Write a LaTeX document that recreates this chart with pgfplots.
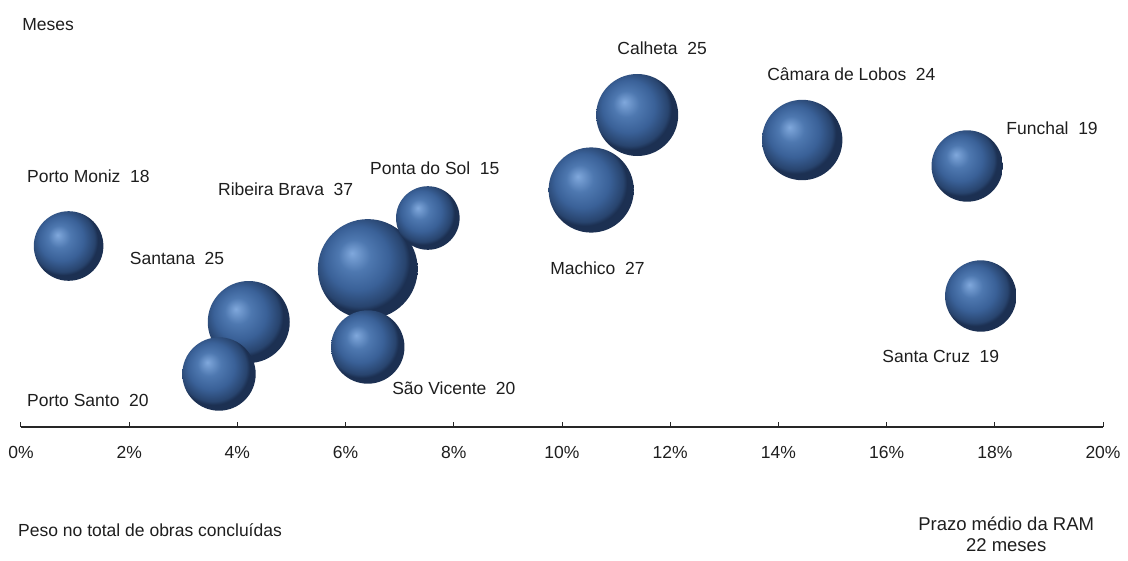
\documentclass[border=0pt]{standalone}
\usepackage{fontspec}
\setmainfont{Liberation Sans}
\usepackage{pgfplots}
\pgfplotsset{compat=1.18}

\definecolor{txt}{RGB}{30,30,30}
\definecolor{sHL}{RGB}{128,168,220}
\definecolor{sMid}{RGB}{78,120,176}
\definecolor{sBase}{RGB}{58,97,152}
\definecolor{sDark}{RGB}{40,68,110}
\definecolor{sEdge}{RGB}{28,48,82}
\pgfdeclareradialshading{sphere}{\pgfpoint{-8bp}{8bp}}{color(0bp)=(sHL); color(8bp)=(sMid); color(16bp)=(sBase); color(23bp)=(sDark); color(25bp)=(sEdge); color(50bp)=(sEdge)}
\pgfdeclareplotmark{sphere}{\pgfpathcircle{\pgfpointorigin}{\pgfplotmarksize}\pgfshadepath{sphere}{0}\pgfusepath{}}
\pgfplotsset{bub/.style={only marks, mark=sphere, mark size=#1}}
\newcommand{\gap}{\hspace{0.55em}}

\begin{document}
\begin{tikzpicture}
\begin{axis}[
  scale only axis, width=1082pt, height=427pt,
  xmin=0, xmax=20, ymin=0, ymax=427,
  axis x line*=bottom, axis y line=none,
  clip=false,
  xtick={0,2,...,20},
  xticklabels={0\%,2\%,4\%,6\%,8\%,10\%,12\%,14\%,16\%,18\%,20\%},
  tick align=inside, major tick length=5pt,
  every tick/.style={black!85, line width=1pt},
  axis line style={black!85, line width=1.2pt},
  xticklabel style={anchor=center, yshift=-25pt, font=\fontsize{17.5}{20}\selectfont, text=txt},
]
% x = share of completed works (%), y = vertical position, mark size = bubble radius (months)
\addplot[bub=49.9pt] coordinates {(6.41,158)};   % Ribeira Brava 37
\addplot[bub=42.6pt] coordinates {(10.54,237)};  % Machico 27
\addplot[bub=41.0pt] coordinates {(4.21,105)};   % Santana 25
\addplot[bub=41.0pt] coordinates {(11.39,312)};  % Calheta 25
\addplot[bub=40.2pt] coordinates {(14.44,287)};  % Camara de Lobos 24
\addplot[bub=36.7pt] coordinates {(3.66,53)};    % Porto Santo 20
\addplot[bub=36.7pt] coordinates {(6.41,80)};    % Sao Vicente 20
\addplot[bub=35.7pt] coordinates {(17.49,261)};  % Funchal 19
\addplot[bub=35.7pt] coordinates {(17.74,131)};  % Santa Cruz 19
\addplot[bub=34.8pt] coordinates {(0.88,181)};   % Porto Moniz 18
\addplot[bub=31.8pt] coordinates {(7.52,209)};   % Ponta do Sol 15

\begin{scope}[every node/.style={anchor=west, inner sep=0pt, text=txt, font=\fontsize{17.5}{20}\selectfont}]
\node at (axis cs:0.02,402) {Meses};
\node at (axis cs:0.11,251) {Porto Moniz\gap 18};
\node at (axis cs:3.64,238) {Ribeira Brava\gap 37};
\node at (axis cs:6.45,259) {Ponta do Sol\gap 15};
\node at (axis cs:2.01,169) {Santana\gap 25};
\node at (axis cs:0.11,27) {Porto Santo\gap 20};
\node at (axis cs:6.86,39) {São Vicente\gap 20};
\node at (axis cs:11.02,379) {Calheta\gap 25};
\node at (axis cs:13.79,353) {Câmara de Lobos\gap 24};
\node at (axis cs:18.21,299) {Funchal\gap 19};
\node at (axis cs:9.78,159) {Machico\gap 27};
\node at (axis cs:15.92,71) {Santa Cruz\gap 19};
\node at (axis cs:-0.055,-103) {Peso no total de obras concluídas};
\end{scope}
\node[anchor=center, align=center, inner sep=0pt, text=txt, font=\fontsize{18.5}{21}\selectfont] at (axis cs:18.21,-107) {Prazo médio da RAM\\22 meses};
\coordinate (BL) at (axis cs:-0.388,-133);
\coordinate (TR) at (axis cs:20.462,427);
\end{axis}
\pgfresetboundingbox
\useasboundingbox (BL) rectangle (TR);
\end{tikzpicture}
\end{document}
